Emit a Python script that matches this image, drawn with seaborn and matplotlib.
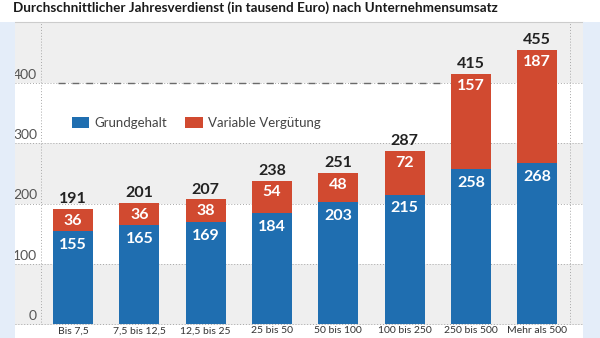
import matplotlib
matplotlib.use("Agg")
import matplotlib.pyplot as plt
from matplotlib.patches import Rectangle, Patch
import pandas as pd
import seaborn as sns

# Umsatzklassen (Mio. Euro) and salary components in thousand Euro
categories = ["Bis 7,5", "7,5 bis 12,5", "12,5 bis 25", "25 bis 50",
              "50 bis 100", "100 bis 250", "250 bis 500", "Mehr als 500"]
grundgehalt = [155, 165, 169, 184, 203, 215, 258, 268]
variabel = [36, 36, 38, 54, 48, 72, 157, 187]
yticks = [0, 100, 200, 300, 400]

title = "Durchschnittlicher Jahresverdienst (in tausend Euro) nach Unternehmensumsatz"
series_names = ["Grundgehalt", "Variable Vergütung"]

BLUE = "#1f6eb0"
RED = "#d14a30"
BAND = "#efefef"
SIDE = "#e4edf9"
FONT = ["Lato", "DejaVu Sans"]

sns.set_theme(style="white")
plt.rcParams["font.family"] = FONT

df = pd.DataFrame({"Umsatz": categories,
                   "Grundgehalt": grundgehalt,
                   "Variabel": variabel})
df["Gesamt"] = df["Grundgehalt"] + df["Variabel"]

W, H = 600, 338
PANEL_TOP, PANEL_BOTTOM = 22, 325
fig = plt.figure(figsize=(W / 100, H / 100), dpi=100)
fig.patch.set_facecolor("white")

# light blue side strips framing the panel
fig.patches.append(Rectangle((0, 0), 15 / W, (H - PANEL_TOP) / H, transform=fig.transFigure,
                             facecolor=SIDE, edgecolor="none", zorder=0))
fig.patches.append(Rectangle((583 / W, 0), 17 / W, (H - PANEL_TOP) / H, transform=fig.transFigure,
                             facecolor=SIDE, edgecolor="none", zorder=0))

ax = fig.add_axes([15 / W, (H - PANEL_BOTTOM) / H, 568 / W, (PANEL_BOTTOM - PANEL_TOP) / H])
ax.set_facecolor("white")
XLIM = (-0.875, 7.69)
YLIM = (-1.7, 501.6)

# alternating horizontal bands
for lo, hi in [(-5, 100), (200, 300), (400, 510)]:
    ax.axhspan(lo, hi, facecolor=BAND, edgecolor="none", zorder=0)

for y in yticks:
    ax.axhline(y, color="#a8a8a8", lw=0.7, ls=(0, (1, 2)), zorder=1)
ax.hlines(400, -0.23, 5.6, color="#6a6a6a", lw=1.0, ls=(0, (5, 5)), zorder=1)
for x in (-0.48, 7.5):
    ax.axvline(x, color="#a8a8a8", lw=0.7, ls=(0, (1, 2)), zorder=1)

# stacked bars: total in red, base salary in blue on top
sns.barplot(data=df, x="Umsatz", y="Gesamt", color=RED, saturation=1,
            width=0.6, linewidth=0, ax=ax, zorder=2)
sns.barplot(data=df, x="Umsatz", y="Grundgehalt", color=BLUE, saturation=1,
            width=0.6, linewidth=0, ax=ax, zorder=3)
ax.set_xlim(*XLIM)
ax.set_ylim(*YLIM)
ax.set_xlabel("")
ax.set_ylabel("")

for i, row in df.iterrows():
    ax.annotate(f"{row['Grundgehalt']}", (i, row["Grundgehalt"]), xytext=(0, -10),
                textcoords="offset points", ha="center", va="center",
                color="white", fontsize=11.5, fontweight="bold", zorder=5)
    ax.annotate(f"{row['Variabel']}", (i, row["Gesamt"]), xytext=(0, -8.5),
                textcoords="offset points", ha="center", va="center",
                color="white", fontsize=11.5, fontweight="bold", zorder=5)
    ax.annotate(f"{row['Gesamt']}", (i, row["Gesamt"]), xytext=(0, 7),
                textcoords="offset points", ha="center", va="center",
                color="#222222", fontsize=11.5, fontweight="bold", zorder=5)

# y tick labels sit just above their grid lines, inside the panel
ax.set_yticks([])
for y in yticks:
    ax.annotate(str(y), (22 / 568, y), xycoords=ax.get_yaxis_transform(),
                xytext=(0, 1.5), textcoords="offset points",
                ha="right", va="bottom", fontsize=10, color="#555555")

ax.set_xticks(range(len(categories)))
ax.set_xticklabels(categories, fontsize=7.5, color="#333333")
ax.tick_params(axis="x", length=0, pad=1)

for side in ("left", "right", "bottom"):
    ax.spines[side].set_visible(False)
ax.spines["top"].set_color("#cccccc")
ax.spines["top"].set_linewidth(0.8)

handles = [Patch(facecolor=BLUE, edgecolor="none"), Patch(facecolor=RED, edgecolor="none")]
leg = ax.legend(handles, series_names, ncol=2, loc="center left",
                bbox_to_anchor=(0.1, 0.667), frameon=False, fontsize=9.5,
                handlelength=1.3, handleheight=0.85, handletextpad=0.4,
                columnspacing=1.4, borderpad=0, borderaxespad=0)
for t in leg.get_texts():
    t.set_color("#444444")

fig.text(13 / W, 1 - 8 / H, title, ha="left", va="center",
         fontsize=9.7, fontweight="bold", color="#1a1a1a")

fig.savefig("out.png", dpi=100, facecolor=fig.get_facecolor())
